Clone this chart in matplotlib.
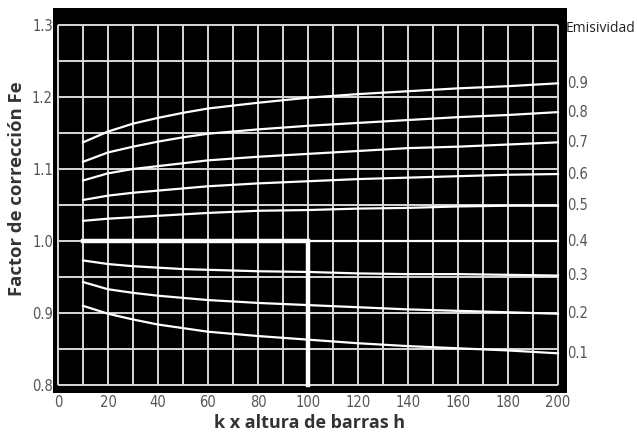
import matplotlib
matplotlib.use("Agg")
import matplotlib.pyplot as plt

# ---- data ----
x_vals = [10, 20, 30, 40, 50, 60, 80, 100, 120, 140, 160, 180, 200]
emisividad = ["0.9", "0.8", "0.7", "0.6", "0.5", "0.4", "0.3", "0.2", "0.1"]
fe_09 = [1.137, 1.152, 1.163, 1.171, 1.178, 1.184, 1.192, 1.199, 1.204, 1.208, 1.212, 1.215, 1.219]
fe_08 = [1.110, 1.123, 1.131, 1.138, 1.144, 1.149, 1.155, 1.160, 1.164, 1.168, 1.172, 1.175, 1.179]
fe_07 = [1.084, 1.094, 1.100, 1.104, 1.108, 1.112, 1.117, 1.121, 1.125, 1.129, 1.131, 1.134, 1.137]
fe_06 = [1.057, 1.063, 1.067, 1.070, 1.073, 1.076, 1.080, 1.083, 1.086, 1.088, 1.090, 1.092, 1.093]
fe_05 = [1.028, 1.031, 1.033, 1.035, 1.037, 1.039, 1.042, 1.043, 1.045, 1.046, 1.048, 1.049, 1.049]
fe_04 = [1.000, 1.000, 1.000, 1.000, 1.000, 1.000, 1.000, 1.000, 1.000, 1.000, 1.000, 1.000, 1.000]
fe_03 = [0.973, 0.968, 0.965, 0.963, 0.961, 0.960, 0.958, 0.957, 0.955, 0.954, 0.954, 0.953, 0.952]
fe_02 = [0.943, 0.933, 0.928, 0.924, 0.921, 0.918, 0.914, 0.911, 0.908, 0.905, 0.903, 0.901, 0.899]
fe_01 = [0.910, 0.899, 0.891, 0.884, 0.879, 0.874, 0.868, 0.863, 0.858, 0.854, 0.851, 0.848, 0.844]
series = [fe_09, fe_08, fe_07, fe_06, fe_05, fe_04, fe_03, fe_02, fe_01]

x_ticks = [0, 20, 40, 60, 80, 100, 120, 140, 160, 180, 200]
x_ticklabels = ["0", "20", "40", "60", "80", "100", "120", "140", "160", "180", "200"]
y_ticks = [0.8, 0.9, 1.0, 1.1, 1.2, 1.3]
y_ticklabels = ["0.8", "0.9", "1.0", "1.1", "1.2", "1.3"]
example_x = [10, 100, 100]
example_y = [1.0, 1.0, 0.8]

narrow = dict(family="DejaVu Sans", stretch="condensed", fontsize=10.5, color="#555555")
label_font = ["Open Sans", "DejaVu Sans"]

fig = plt.figure(figsize=(6.37, 4.32), dpi=100)
ax = fig.add_axes([53/637, 1-393/432, (567-53)/637, (393-8)/432])
ax.set_facecolor("black")
ax.set_xlim(-2, 203.6)
ax.set_ylim(0.7889, 1.3236)
for s in ax.spines.values():
    s.set_visible(False)

gridc = "#d8d8d8"
ax.vlines(list(range(0, 201, 10)), 0.8, 1.3, color=gridc, lw=1.4, zorder=1)
hy = [0.8 + 0.05*i for i in range(11)]
ax.hlines(hy, 0, 200, color=gridc, lw=1.4, zorder=1)

for ys in series:
    ax.plot(x_vals, ys, color="white", lw=1.6, zorder=2)

ax.plot(example_x, example_y, color="white", lw=3.2, zorder=3, solid_joinstyle="miter")

ax.set_xticks(x_ticks)
ax.set_xticklabels(x_ticklabels, **narrow)
ax.set_yticks(y_ticks)
ax.set_yticklabels(y_ticklabels, **narrow)
ax.tick_params(length=0)
ax.tick_params(axis="x", pad=1.5)
ax.tick_params(axis="y", pad=0)

for lab, ys in zip(emisividad, series):
    ax.annotate(lab, xy=(1.0, ys[-1]), xycoords=("axes fraction", "data"),
                xytext=(0, 0), textcoords="offset points",
                ha="left", va="center", **narrow)

fig.text(566/637, 1-28/432, "Emisividad", ha="left", va="center",
         fontsize=10, color="#222222", family=label_font)

fig.text(310/637, 1-423/432, "k x altura de barras h", ha="center", va="center",
         fontsize=13, fontweight="bold", color="#333333", family=label_font)
fig.text(17/637, 1-189/432, "Factor de corrección Fe", ha="center", va="center",
         rotation=90, fontsize=13.3, fontweight="bold", color="#333333", family=label_font)

fig.savefig("out.png", dpi=100, facecolor="white")
